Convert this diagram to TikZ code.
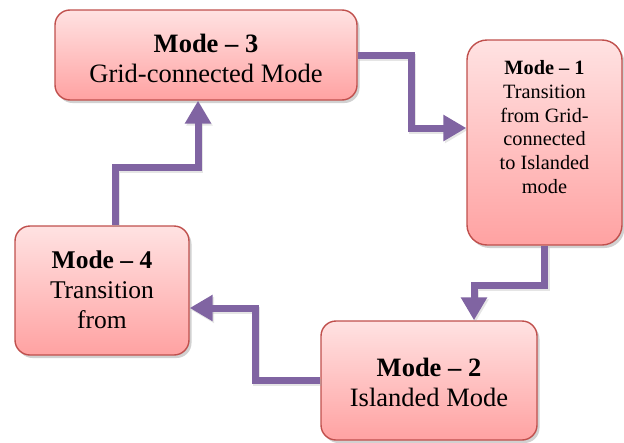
\documentclass[tikz,border=0pt]{standalone}
\usepackage{fontspec}
\setmainfont{Liberation Serif}
\newfontfamily\tnr{Liberation Serif}
\usetikzlibrary{arrows.meta,shadows,calc}
\definecolor{flowc}{HTML}{8064A2}
\definecolor{boxborder}{HTML}{C0504D}
\definecolor{boxtop}{HTML}{FFE2E2}
\definecolor{boxbot}{HTML}{FFA2A2}
\begin{document}
\begin{tikzpicture}[x=1pt,y=-1pt,
  box/.style={draw=boxborder, line width=1.4pt, rounded corners=15pt,
    top color=boxtop, bottom color=boxbot,
    drop shadow={shadow xshift=2.5pt, shadow yshift=-3pt, opacity=0.3, fill=black!60},
    inner sep=0pt},
  txt/.style={align=center, inner sep=0pt, font=\tnr\fontsize{26.5}{30.5}\selectfont},
  midtxt/.style={align=center, inner sep=0pt, font=\tnr\fontsize{25.5}{30}\selectfont},
  smalltxt/.style={align=center, inner sep=0pt, font=\tnr\fontsize{20.3}{23.8}\selectfont},
  flow/.style={draw=flowc, line width=7pt, line join=miter,
    -{Triangle[width=25pt,length=23pt]},
    preaction={draw=black!40, opacity=0.25, line width=7pt, transform canvas={xshift=1.5pt,yshift=-2pt}}}]
\useasboundingbox (0,0) rectangle (624,442);
% boxes
\node[box, minimum width=302pt, minimum height=90pt] (m3) at (206,55) {};
\node[box, minimum width=155pt, minimum height=205pt, rounded corners=20pt] (m1) at (544.5,142.5) {};
\node[box, minimum width=174pt, minimum height=129pt] (m4) at (102,290.5) {};
\node[box, minimum width=216pt, minimum height=119pt] (m2) at (429,380.5) {};
% texts
\node[txt] (t3) at (206,58.5) {\textbf{Mode – 3}\\Grid-connected Mode};
\node[smalltxt] (t1) at (544.5,127) {\textbf{Mode – 1}\\Transition\\from Grid-\\connected\\to Islanded\\mode};
\node[midtxt] (t4) at (102,290) {\textbf{Mode – 4}\\Transition\\from};
\node[txt] (t2) at (429,382.5) {\textbf{Mode – 2}\\Islanded Mode};
% bend points
\coordinate (a1) at (411,128);
\coordinate (a2) at (474,285);
\coordinate (a3) at (255,308);
\coordinate (a4) at (198,167);
\coordinate (s4) at (115,226);
% connectors
\draw[flow] (m3.east) -| (a1) -- (a1 -| m1.west);
\draw[flow] (m1.south) |- (a2) -- (a2 |- m2.north);
\draw[flow] (m2.west) -| (a3) -- (a3 -| m4.east);
\draw[flow] (s4 |- m4.north) |- (a4) -- (a4 |- m3.south);
\end{tikzpicture}
\end{document}
